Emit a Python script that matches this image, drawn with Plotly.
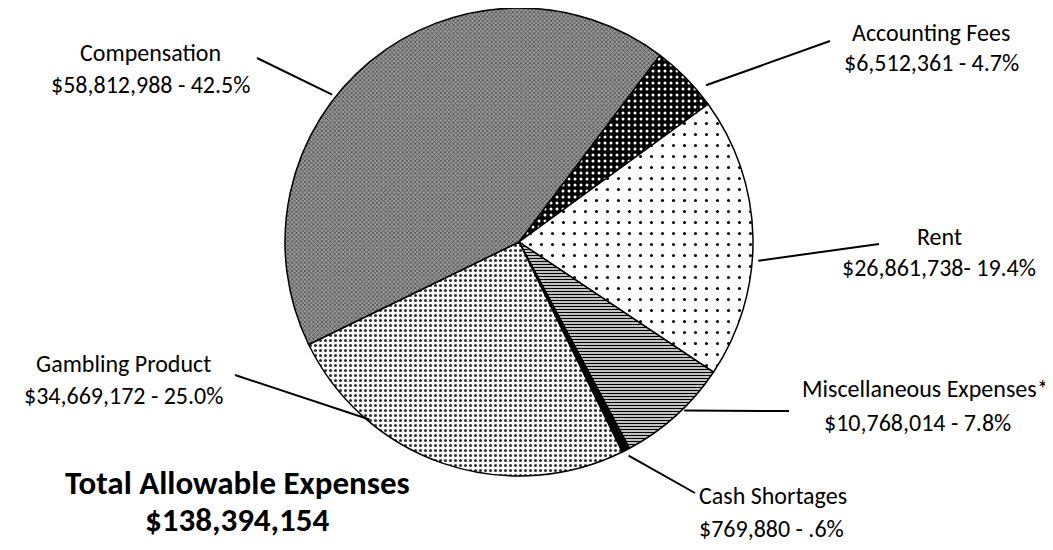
import math
import plotly.graph_objects as go

# ---- data ----
categories = ["Accounting Fees", "Rent", "Miscellaneous Expenses*", "Cash Shortages",
              "Gambling Product", "Compensation"]
values = [6512361, 26861738, 10768014, 769880, 34669172, 58812988]
value_labels = ["$6,512,361 - 4.7%", "$26,861,738- 19.4%", "$10,768,014 - 7.8%",
                "$769,880 - .6%", "$34,669,172 - 25.0%", "$58,812,988 - 42.5%"]
total_title = "Total Allowable Expenses"
total_value = "$138,394,154"

# ---- style ----
W, H = 1053, 550
OFF = 8  # page body margin offset
FONT = "Carlito, Calibri, Lato, sans-serif"
CX, CY, R = 519, 242, 234
ROT = 37

bg = ["#000000", "#ffffff", "#ffffff", "#000000", "#ffffff", "#9a9a9a"]
fg = ["#ffffff", "#000000", "#000000", "#000000", "#333333", "#4a4a4a"]
shapes_p = [".", ".", "-", "", ".", "x"]
sizes_p = [6, 11, 3, 4, 5, 3]
solid_p = [0.2, 0.06, 0.5, 0.3, 0.3, 0.45]

def px(x):
    return (x - OFF) / W

def py(y):
    return 1 - (y - OFF) / H

def clamp(v):
    return min(1.0, max(0.0, v))

fig = go.Figure(go.Pie(
    labels=categories, values=values, sort=False, direction="clockwise",
    rotation=ROT, textinfo="none", hoverinfo="label+value+percent",
    showlegend=False,
    domain=dict(x=[clamp(px(CX - R)), clamp(px(CX + R))],
                y=[clamp(py(CY + R)), clamp(py(CY - R))]),
    marker=dict(colors=bg, line=dict(color="black", width=1.5),
                pattern=dict(shape=shapes_p, fgcolor=fg, bgcolor=bg,
                             size=sizes_p, solidity=solid_p, fillmode="replace")),
))

# label placement (pixels): text x, line y's, leader tail, fraction in slice, tip gap
label_pos = [
    dict(x=931, y1=32, y2=63, tail=(830, 41), frac=0.77, gap=10),
    dict(x=939, y1=236, y2=268, tail=(879, 244), frac=0.58, gap=6),
    dict(x=917, y1=388, y2=422, tail=(789, 411), frac=0.42, gap=2, x1=1051, a1="right"),
    dict(x=697, y1=495, y2=528, tail=(695, 493), frac=0.5, gap=6, anchor="left"),
    dict(x=123, y1=363, y2=395, tail=(235, 375), frac=0.735, gap=-2),
    dict(x=150, y1=53, y2=84, tail=(257, 58), frac=0.42, gap=4),
]

LBL_FONT = dict(family=FONT, size=24, color="black")

total = sum(values)
start = ROT
shapes = []
annotations = []
for cat, val, vl, lp in zip(categories, values, value_labels, label_pos):
    span = val / total * 360
    ang = math.radians(start + span * lp["frac"])
    start += span
    rr = R + lp["gap"]
    tx = CX + rr * math.sin(ang)
    ty = CY - rr * math.cos(ang)
    shapes.append(dict(type="line", xref="paper", yref="paper",
                       x0=px(lp["tail"][0]), y0=py(lp["tail"][1]),
                       x1=px(tx), y1=py(ty),
                       line=dict(color="black", width=2)))
    anc = lp.get("anchor", "center")
    for txt, xx, yy, a in ((cat, lp.get("x1", lp["x"]), lp["y1"], lp.get("a1", anc)),
                           (vl, lp["x"], lp["y2"], anc)):
        annotations.append(dict(xref="paper", yref="paper", x=px(xx), y=py(yy),
                                text=txt, showarrow=False,
                                xanchor=a, yanchor="middle",
                                font=LBL_FONT))

for txt, yy in ((total_title, 483), (total_value, 520)):
    annotations.append(dict(xref="paper", yref="paper", x=px(237), y=py(yy),
                            text=f"<b>{txt}</b>", showarrow=False,
                            xanchor="center", yanchor="middle",
                            font=dict(family=FONT, size=33, color="black")))

fig.update_layout(width=W, height=H, margin=dict(l=0, r=0, t=0, b=0),
                  paper_bgcolor="white", plot_bgcolor="white",
                  shapes=shapes, annotations=annotations)

fig.write_html("out.html")
